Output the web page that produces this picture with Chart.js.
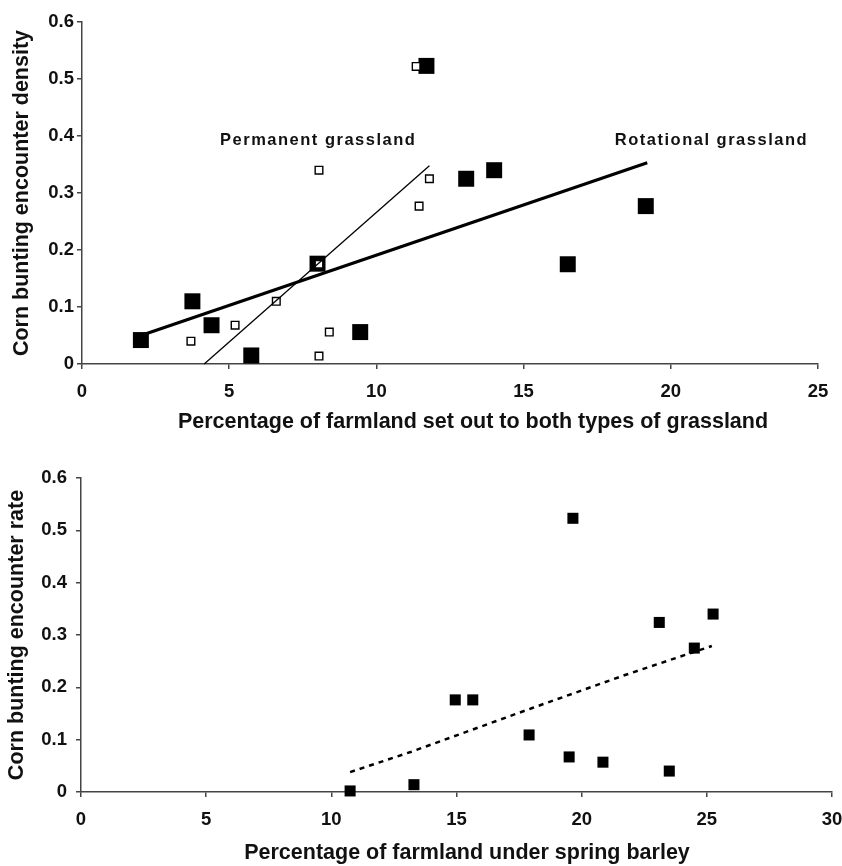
<!DOCTYPE html>
<html lang="en">
<head>
    <meta charset="UTF-8">
    <title>Corn bunting encounter vs farmland</title>
    <style>
        body {
            margin: 0;
            padding: 0;
            background: #ffffff;
        }
        .wrap {
            position: relative;
            width: 842px;
            height: 866px;
        }
        #grassChart {
            position: absolute;
            left: 0;
            top: 0;
        }
        #barleyChart {
            position: absolute;
            left: 0;
            top: 440px;
        }
    </style>
</head>
<body>
    <div class="wrap">
        <canvas id="grassChart" width="842" height="440"></canvas>
        <canvas id="barleyChart" width="842" height="426"></canvas>
    </div>

    <script src="https://cdn.jsdelivr.net/npm/chart.js"></script>
    <script>
        // top panel: rotational (filled) and permanent (open) grassland
        const rotX = [2.0, 3.75, 4.4, 5.75, 8.0, 9.45, 11.7, 13.05, 14.0, 16.5, 19.15];
        const rotY = [0.042, 0.11, 0.068, 0.015, 0.176, 0.056, 0.523, 0.325, 0.34, 0.175, 0.277];
        const permX = [3.7, 5.2, 6.6, 8.05, 8.05, 8.05, 8.4, 11.45, 11.35, 11.8];
        const permY = [0.04, 0.068, 0.11, 0.175, 0.34, 0.014, 0.056, 0.277, 0.522, 0.325];
        const rotFitX = [2.0, 19.2];
        const rotFitY = [0.05, 0.353];
        const permFitX = [4.15, 11.8];
        const permFitY = [0, 0.348];

        // bottom panel: spring barley
        const barleyX = [10.75, 13.3, 14.95, 15.65, 17.9, 19.5, 19.65, 20.85, 23.1, 23.5, 24.5, 25.25];
        const barleyY = [0.002, 0.014, 0.176, 0.176, 0.109, 0.067, 0.523, 0.057, 0.324, 0.04, 0.275, 0.34];
        const barleyFitX = [10.75, 13.2, 18.0, 21.7, 25.2];
        const barleyFitY = [0.038, 0.077, 0.16, 0.223, 0.279];

        const yTicks = [0, 0.1, 0.2, 0.3, 0.4, 0.5, 0.6];
        const topXTicks = [0, 5, 10, 15, 20, 25];
        const bottomXTicks = [0, 5, 10, 15, 20, 25, 30];

        const FONT = "'Liberation Sans', Arial, sans-serif";
        const AXIS = '#444444';

        function pts(xs, ys) {
            return xs.map((x, i) => ({ x: x, y: ys[i] }));
        }

        function fixedTicks(list) {
            return function (axis) {
                axis.ticks = list.map(v => ({ value: v }));
            };
        }

        function xScale(max, ticks, labelPad, boxHeight) {
            return {
                type: 'linear',
                min: 0,
                max: max,
                afterBuildTicks: fixedTicks(ticks),
                afterFit: s => {
                    s.height = boxHeight;
                    s.paddingLeft = 0;
                    s.paddingRight = 0;
                },
                border: { display: true, color: AXIS, width: 1.5 },
                grid: { drawOnChartArea: false, drawTicks: true, tickLength: 5, color: AXIS, lineWidth: 1.5 },
                ticks: {
                    color: '#111',
                    padding: labelPad,
                    maxRotation: 0,
                    font: { family: FONT, size: 18.5, weight: 'bold' }
                },
                title: { display: false }
            };
        }

        function yScale(title, labelPad, boxWidth, titlePad) {
            return {
                type: 'linear',
                min: 0,
                max: 0.6,
                afterBuildTicks: fixedTicks(yTicks),
                afterFit: s => { s.width = boxWidth; },
                border: { display: true, color: AXIS, width: 1.5 },
                grid: { drawOnChartArea: false, drawTicks: true, tickLength: 5, color: AXIS, lineWidth: 1.5 },
                ticks: {
                    color: '#111',
                    padding: labelPad,
                    font: { family: FONT, size: 18.5, weight: 'bold' },
                    callback: v => v === 0 ? '0' : v.toFixed(1)
                },
                title: {
                    display: true,
                    text: title,
                    color: '#111',
                    padding: { top: titlePad, bottom: 0 },
                    font: { family: FONT, size: 21.5, weight: 'bold' }
                }
            };
        }

        // x-axis title, drawn a little right of the axis centre as in the source figure
        const xTitle = {
            id: 'xTitle',
            afterDraw(chart, args, opts) {
                const { ctx } = chart;
                ctx.save();
                ctx.fillStyle = '#111';
                ctx.font = "bold 21.5px " + FONT;
                ctx.textAlign = 'center';
                ctx.textBaseline = 'middle';
                ctx.fillText(opts.text, opts.x, opts.y);
                ctx.restore();
            }
        };

        // text labels next to the fitted lines
        const lineLabels = {
            id: 'lineLabels',
            afterDatasetsDraw(chart) {
                const { ctx, scales } = chart;
                ctx.save();
                ctx.fillStyle = '#111';
                ctx.font = "bold 16.5px " + FONT;
                ctx.letterSpacing = '1.5px';
                ctx.textBaseline = 'middle';
                ctx.textAlign = 'left';
                ctx.fillText('Permanent grassland', scales.x.getPixelForValue(4.69), scales.y.getPixelForValue(0.393));
                ctx.fillText('Rotational grassland', scales.x.getPixelForValue(18.1), scales.y.getPixelForValue(0.393));
                ctx.restore();
            }
        };

        new Chart(document.getElementById('grassChart'), {
            type: 'scatter',
            data: {
                datasets: [
                    {
                        label: 'Rotational fit',
                        data: pts(rotFitX, rotFitY),
                        showLine: true,
                        borderColor: '#000',
                        borderWidth: 3.2,
                        pointRadius: 0
                    },
                    {
                        label: 'Permanent fit',
                        data: pts(permFitX, permFitY),
                        showLine: true,
                        borderColor: '#000',
                        borderWidth: 1.3,
                        pointRadius: 0
                    },
                    {
                        label: 'Permanent grassland',
                        data: pts(permX, permY),
                        pointStyle: 'rect',
                        pointRadius: 5.4,
                        backgroundColor: '#ffffff',
                        borderColor: '#000',
                        borderWidth: 1.4
                    },
                    {
                        label: 'Rotational grassland',
                        data: pts(rotX, rotY),
                        pointStyle: 'rect',
                        pointRadius: 11.3,
                        backgroundColor: '#000',
                        borderColor: '#000',
                        borderWidth: 0
                    }
                ]
            },
            options: {
                responsive: false,
                animation: false,
                clip: false,
                layout: { autoPadding: false, padding: { top: 22, right: 24, left: 0, bottom: 0 } },
                plugins: {
                    legend: { display: false },
                    tooltip: { enabled: false },
                    xTitle: { text: 'Percentage of farmland set out to both types of grassland', x: 473, y: 422 }
                },
                scales: {
                    x: xScale(25, topXTicks, 12, 76),
                    y: yScale('Corn bunting encounter density', 3, 82, 9)
                }
            },
            plugins: [lineLabels, xTitle]
        });

        new Chart(document.getElementById('barleyChart'), {
            type: 'scatter',
            data: {
                datasets: [
                    {
                        label: 'Barley fit',
                        data: pts(barleyFitX, barleyFitY),
                        showLine: true,
                        borderColor: '#000',
                        borderWidth: 2.5,
                        borderDash: [5, 5],
                        pointRadius: 0
                    },
                    {
                        label: 'Spring barley',
                        data: pts(barleyX, barleyY),
                        pointStyle: 'rect',
                        pointRadius: 7.8,
                        backgroundColor: '#000',
                        borderColor: '#000',
                        borderWidth: 0
                    }
                ]
            },
            options: {
                responsive: false,
                animation: false,
                clip: false,
                layout: { autoPadding: false, padding: { top: 38, right: 10, left: 0, bottom: 0 } },
                plugins: {
                    legend: { display: false },
                    tooltip: { enabled: false },
                    xTitle: { text: 'Percentage of farmland under spring barley', x: 467, y: 413 }
                },
                scales: {
                    x: xScale(30, bottomXTicks, 12, 74),
                    y: yScale('Corn bunting encounter rate', 9, 81, 4)
                }
            },
            plugins: [xTitle]
        });
    </script>
</body>
</html>
